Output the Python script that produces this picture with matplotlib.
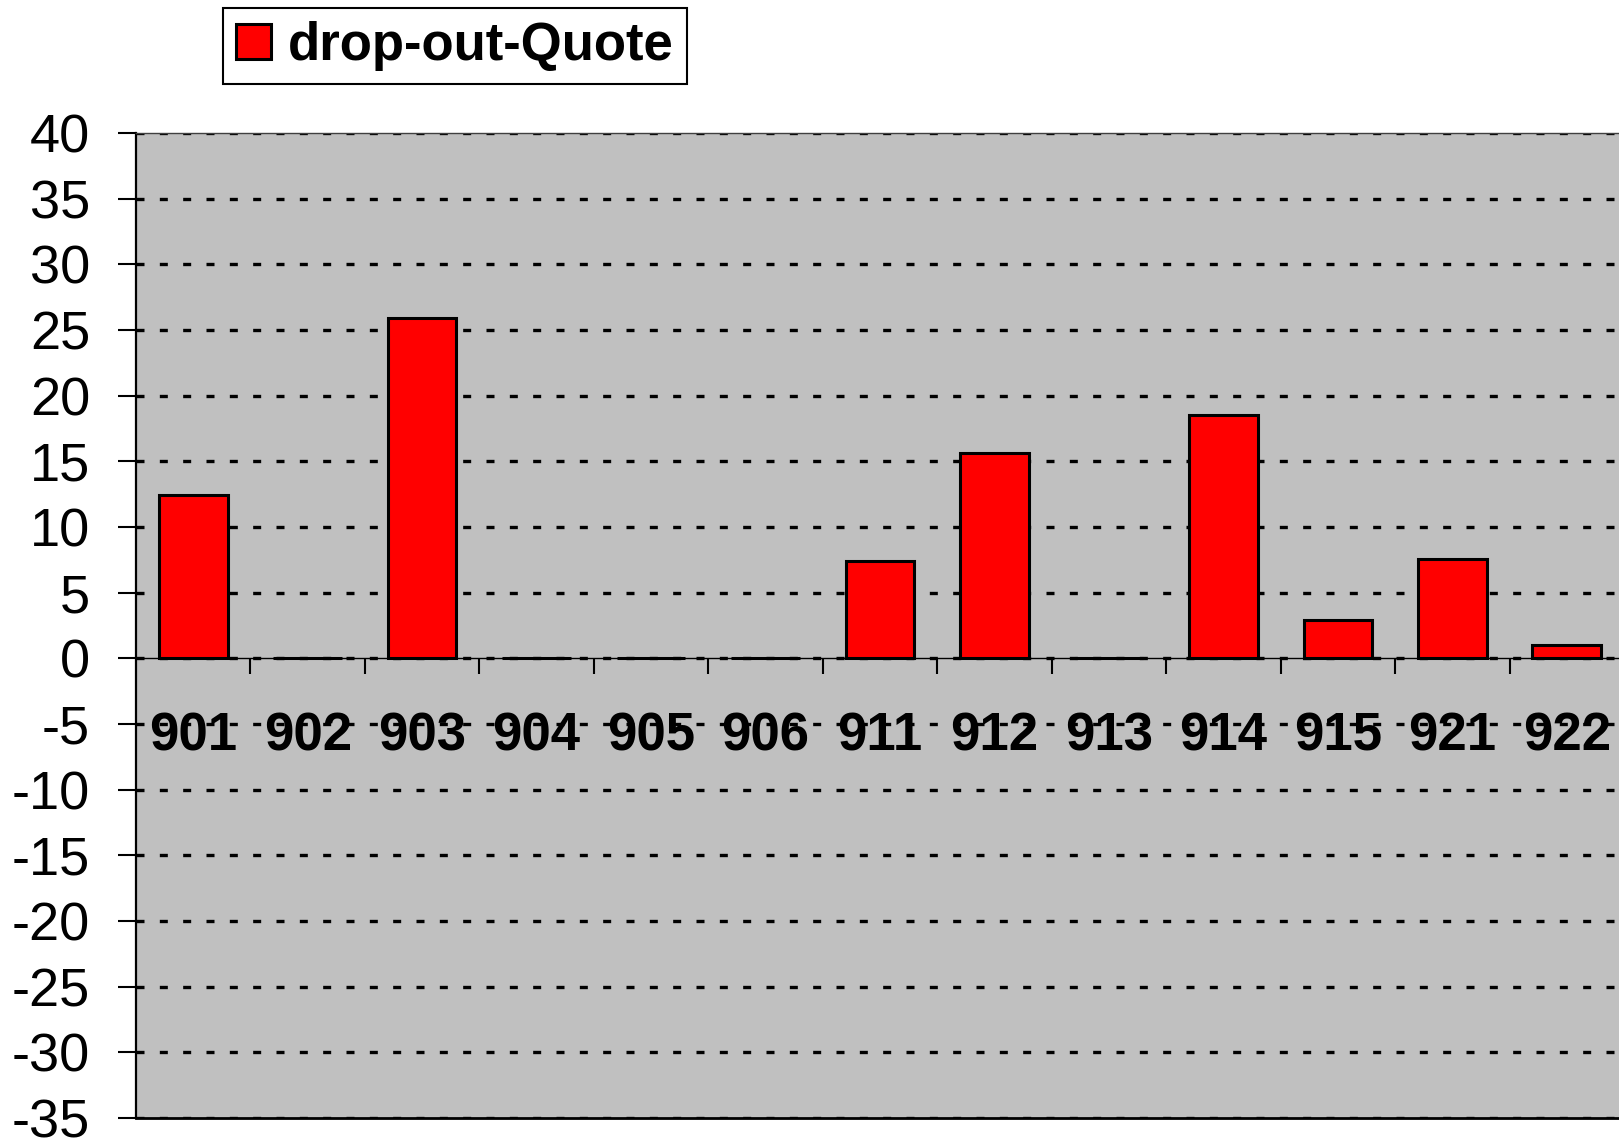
import numpy as np
import matplotlib
matplotlib.use('Agg')
import matplotlib.pyplot as plt
from matplotlib.ticker import FixedLocator

plt.rcParams['font.family'] = ['Liberation Sans', 'DejaVu Sans']

# drop-out rate per school code
schools = ['901', '902', '903', '904', '905', '906', '911',
           '912', '913', '914', '915', '921', '922']
quote = [12.4, 0, 25.9, 0, 0, 0, 7.4, 15.6, 0, 18.5, 2.9, 7.6, 1.0]
y_ticks = list(range(-35, 41, 5))

fig = plt.figure(figsize=(16.19, 11.42), dpi=100)
ax = fig.add_axes([136 / 1619, 24 / 1142, 1488 / 1619, 985 / 1142])
ax.set_facecolor('#c0c0c0')

x = np.arange(len(schools))
ax.bar(x, quote, width=0.6, color='#ff0000', edgecolor='black',
       linewidth=2.2, label='drop-out-Quote', zorder=3)

ax.set_xlim(-0.5, len(schools) - 0.5)
ax.set_ylim(-35, 40)
ax.set_yticks(y_ticks)
ax.set_yticklabels([str(v) for v in y_ticks], fontsize=39)

# dotted horizontal grid behind the bars
ax.yaxis.grid(True, color='black', linewidth=2.4, linestyle=(0, (2.4, 4.6)))
ax.set_axisbelow(True)

# category axis sits on the zero line
ax.spines['bottom'].set_position(('data', 0))
ax.spines['bottom'].set_linewidth(1.0)
ax.spines['left'].set_linewidth(1.6)
ax.spines['top'].set_linewidth(1.0)
ax.spines['top'].set_color('#404040')
ax.spines['right'].set_visible(False)
ax.axhline(-35, color='black', linewidth=2.0, clip_on=False, zorder=4)

ax.set_xticks(x)
ax.set_xticklabels(schools, fontsize=38, fontweight='bold')
ax.xaxis.set_minor_locator(FixedLocator(np.arange(0.5, len(schools) - 1, 1.0)))
ax.tick_params(axis='x', which='major', length=0, pad=38)
ax.tick_params(axis='x', which='minor', length=11.5, width=1.5, direction='out')
ax.tick_params(axis='y', which='major', length=13, width=1.5, direction='out', pad=20)

leg = ax.legend(loc='upper left', bbox_to_anchor=(223 / 1619, 1 - 8 / 1142),
                bbox_transform=fig.transFigure, borderaxespad=0,
                prop={'size': 38, 'weight': 'bold'}, fancybox=False,
                framealpha=1, edgecolor='black', handlelength=0.65,
                handleheight=0.65, handletextpad=0.33, borderpad=0.25)
leg.get_frame().set_linewidth(1.5)

fig.savefig('out.png', dpi=100)
